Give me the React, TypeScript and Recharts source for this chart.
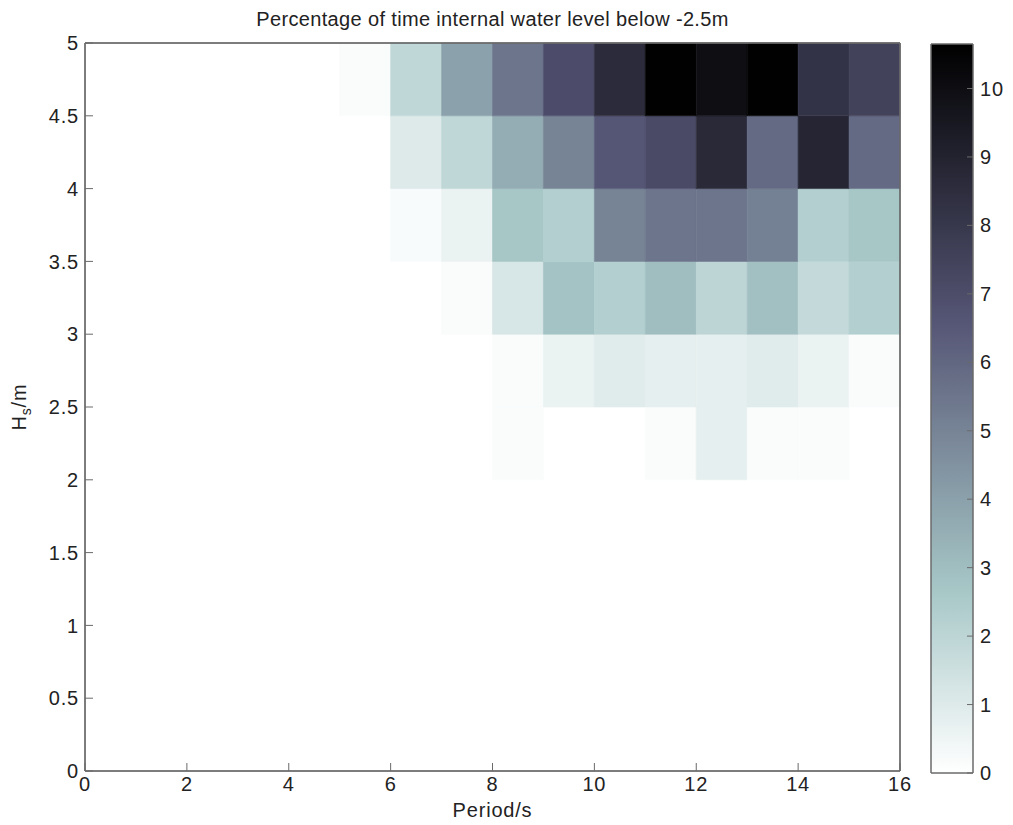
import { ScatterChart, ComposedChart, Scatter, XAxis, YAxis, ReferenceArea, Label } from 'recharts';

// heatmap: % of time internal water level below -2.5m, by period (s) and Hs (m)
const PERIOD_STARTS = [5, 6, 7, 8, 9, 10, 11, 12, 13, 14, 15];
const HS_STARTS = [2, 2.5, 3, 3.5, 4, 4.5];
const PCT_HS_20 = [0, 0, 0, 0.15, 0, 0, 0.15, 0.75, 0.15, 0.15, 0];
const PCT_HS_25 = [0, 0, 0, 0.15, 0.6, 0.95, 0.75, 0.75, 0.95, 0.6, 0.15];
const PCT_HS_30 = [0, 0, 0.15, 1.2, 2.8, 2.3, 3.0, 2.0, 2.9, 1.8, 2.3];
const PCT_HS_35 = [0, 0.2, 0.6, 2.7, 2.3, 5.0, 5.5, 5.5, 5.1, 2.3, 2.7];
const PCT_HS_40 = [0, 1.0, 1.9, 3.6, 5.0, 6.6, 7.1, 8.7, 5.9, 8.9, 5.9];
const PCT_HS_45 = [0.15, 1.9, 4.0, 5.5, 7.0, 8.6, 10.6, 10.0, 10.6, 8.2, 7.5];
const ROWS = [PCT_HS_20, PCT_HS_25, PCT_HS_30, PCT_HS_35, PCT_HS_40, PCT_HS_45];

const VMAX = 10.65;
const X_TICKS = [0, 2, 4, 6, 8, 10, 12, 14, 16];
const Y_TICKS = [0, 0.5, 1, 1.5, 2, 2.5, 3, 3.5, 4, 4.5, 5];
const CBAR_TICKS = [0, 1, 2, 3, 4, 5, 6, 7, 8, 9, 10];

const FONT = '"Liberation Sans", Arial, sans-serif';
const AXIS = '#6a6a6a';
const TICK = { fill: '#222', fontSize: 20, fontFamily: FONT, letterSpacing: 0.8 };

const clamp = (v: number) => Math.min(1, Math.max(0, v));

// flipped MATLAB "bone" colormap
function boneColor(v: number) {
  const t = 1 - clamp(v / VMAX);
  const hr = clamp(t / 0.375);
  const hg = clamp((t - 0.375) / 0.375);
  const hb = clamp((t - 0.75) / 0.25);
  const r = Math.round(((7 * t + hb) / 8) * 255);
  const g = Math.round(((7 * t + hg) / 8) * 255);
  const b = Math.round(((7 * t + hr) / 8) * 255);
  return `rgb(${r},${g},${b})`;
}

const cells = ROWS.flatMap((row, i) =>
  row.map((v, j) => ({ x: PERIOD_STARTS[j], y: HS_STARTS[i], v })).filter((c) => c.v > 0)
);
const cbarPoints = CBAR_TICKS.map((v) => ({ x: 0.5, y: v }));

const gradStops = Array.from({ length: 33 }, (_, i) => i / 32);

const noShape = () => <g />;

function YLabel(props: any) {
  const vb = props.viewBox || {};
  const cx = 26;
  const cy = vb.y + vb.height / 2;
  return (
    <text
      x={cx}
      y={cy}
      transform={`rotate(-90 ${cx} ${cy})`}
      textAnchor="middle"
      fontSize={20}
      fontFamily={FONT}
      letterSpacing={0.8}
      fill="#222"
    >
      H<tspan fontSize={14} dy={5}>s</tspan><tspan dy={-5}>/m</tspan>
    </text>
  );
}

// overlay=true draws only the box and inward ticks on top of the cells
function HeatMap({ overlay }: { overlay: boolean }) {
  const tick = overlay ? false : TICK;
  return (
    <ScatterChart width={930} height={825} margin={{ top: 42, right: 29, bottom: 0, left: 25 }}>
      <XAxis
        type="number" dataKey="x" domain={[0, 16]} ticks={X_TICKS} height={54}
        tick={tick} tickSize={-8} tickMargin={14}
        axisLine={{ stroke: AXIS }} tickLine={{ stroke: AXIS }}
      >
        {!overlay && (
          <Label value="Period/s" position="insideBottom" offset={8} fontSize={20} letterSpacing={0.8} fontFamily={FONT} fill="#222" />
        )}
      </XAxis>
      <XAxis
        xAxisId="top" orientation="top" type="number" dataKey="x" domain={[0, 16]} ticks={X_TICKS} height={1}
        tick={false} tickSize={-8} axisLine={{ stroke: AXIS }} tickLine={{ stroke: AXIS }}
      />
      <YAxis
        type="number" dataKey="y" domain={[0, 5]} ticks={Y_TICKS} width={60}
        tick={tick} tickSize={-8} tickMargin={14}
        axisLine={{ stroke: AXIS }} tickLine={{ stroke: AXIS }}
      >
        {!overlay && <Label content={<YLabel />} />}
      </YAxis>
      <YAxis
        yAxisId="right" orientation="right" type="number" dataKey="y" domain={[0, 5]} ticks={Y_TICKS} width={1}
        tick={false} tickSize={-8} axisLine={{ stroke: AXIS }} tickLine={{ stroke: AXIS }}
      />
      <Scatter data={cells} shape={noShape} isAnimationActive={false} />
      <Scatter data={cells} xAxisId="top" yAxisId="right" shape={noShape} isAnimationActive={false} />
      {!overlay &&
        cells.map((c) => (
          <ReferenceArea
            key={`${c.x}-${c.y}`}
            x1={c.x} x2={c.x + 1} y1={c.y} y2={c.y + 0.5}
            fill={boneColor(c.v)} fillOpacity={1}
            stroke={boneColor(c.v)} strokeWidth={0.6}
            ifOverflow="visible"
          />
        ))}
      {overlay && (
        <ReferenceArea x1={0} x2={16} y1={0} y2={5} fill="none" fillOpacity={0} stroke={AXIS} strokeWidth={1} />
      )}
    </ScatterChart>
  );
}

function ColorBar({ overlay }: { overlay: boolean }) {
  return (
    <ComposedChart width={113} height={825} margin={{ top: 44, right: 0, bottom: 52, left: 30 }}>
      <defs>
        <linearGradient id="cbar" x1="0" y1="0" x2="0" y2="1">
          {gradStops.map((s) => (
            <stop key={s} offset={s} stopColor={boneColor(VMAX * (1 - s))} />
          ))}
        </linearGradient>
      </defs>
      <XAxis type="number" dataKey="x" domain={[0, 1]} hide />
      <YAxis
        yAxisId="l" orientation="left" type="number" dataKey="y" domain={[0, VMAX]} ticks={CBAR_TICKS} width={1}
        tick={false} tickSize={-6} axisLine={false} tickLine={{ stroke: AXIS }}
      />
      <YAxis
        yAxisId="r" orientation="right" type="number" dataKey="y" domain={[0, VMAX]} ticks={CBAR_TICKS} width={40}
        tick={overlay ? false : TICK} tickSize={-6} tickMargin={13} axisLine={false} tickLine={{ stroke: AXIS }}
      />
      <Scatter data={cbarPoints} yAxisId="l" shape={noShape} isAnimationActive={false} />
      <Scatter data={cbarPoints} yAxisId="r" shape={noShape} isAnimationActive={false} />
      <ReferenceArea
        yAxisId="r" y1={0} y2={VMAX}
        fill={overlay ? 'none' : 'url(#cbar)'} fillOpacity={overlay ? 0 : 1}
        stroke={AXIS} strokeWidth={1}
      />
    </ComposedChart>
  );
}

export default function App() {
  return (
    <div style={{ position: 'absolute', left: 0, top: 0, width: 1013, height: 825, background: '#fff' }}>
      <div
        style={{
          position: 'absolute', left: 85, width: 815, top: 8, textAlign: 'center',
          fontFamily: FONT, fontSize: 20, letterSpacing: 0.35, color: '#222',
        }}
      >
        Percentage of time internal water level below -2.5m
      </div>
      <div style={{ position: 'absolute', left: 0, top: 0 }}>
        <HeatMap overlay={false} />
      </div>
      <div style={{ position: 'absolute', left: 0, top: 0, pointerEvents: 'none' }}>
        <HeatMap overlay={true} />
      </div>
      <div style={{ position: 'absolute', left: 900, top: 0 }}>
        <ColorBar overlay={false} />
      </div>
      <div style={{ position: 'absolute', left: 900, top: 0, pointerEvents: 'none' }}>
        <ColorBar overlay={true} />
      </div>
    </div>
  );
}
